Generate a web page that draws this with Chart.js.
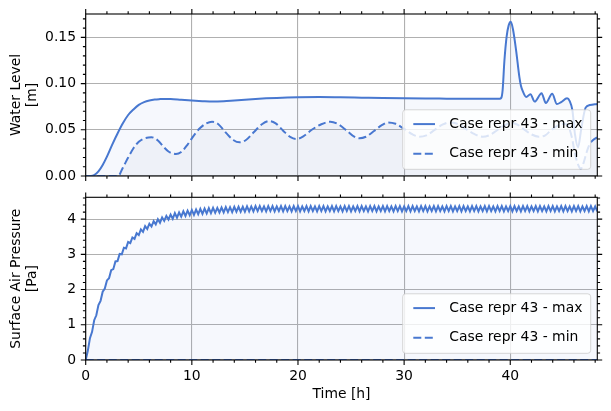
<!DOCTYPE html>
<html><head><meta charset="utf-8">
<script src="https://cdn.jsdelivr.net/npm/chart.js@4/dist/chart.umd.min.js"></script>
<style>
html,body{margin:0;padding:0;background:#fff;width:611px;height:411px;overflow:hidden}
canvas{position:absolute;left:0}
#top{top:0;width:611px;height:190px}
#bot{top:190px;width:611px;height:221px}
</style></head><body>
<canvas id="top" width="611" height="190"></canvas>
<canvas id="bot" width="611" height="221"></canvas>
<script>
// ---------- data ----------
const seriesMaxLabel = 'Case repr 43 - max';
const seriesMinLabel = 'Case repr 43 - min';

const xMajorTicks = [0, 10, 20, 30, 40];
const xMinorTicks = [2, 4, 6, 8, 12, 14, 16, 18, 22, 24, 26, 28, 32, 34, 36, 38, 42, 44, 46, 48];
const waterTicks = [0, 0.05, 0.10, 0.15];
const waterMinorTicks = [0.01, 0.02, 0.03, 0.04, 0.06, 0.07, 0.08, 0.09, 0.11, 0.12, 0.13, 0.14, 0.16, 0.17];
const pressureTicks = [0, 1, 2, 3, 4];
const pressureMinorTicks = [0.2, 0.4, 0.6, 0.8, 1.2, 1.4, 1.6, 1.8, 2.2, 2.4, 2.6, 2.8, 3.2, 3.4, 3.6, 3.8, 4.2, 4.4, 4.6];

const waterMaxTime = [0, 0.5, 0.8, 1.2, 1.6, 2.0, 2.5, 3.0, 3.5, 4.0,
  4.5, 5.0, 5.5, 6.0, 6.5, 7.0, 7.5, 8.0, 9.0, 10.0,
  11, 12, 13, 14, 15, 16, 17, 18, 19, 20,
  22, 24, 26, 28, 30, 32, 34, 36, 38, 39,
  39.15, 39.28, 39.45, 39.66, 39.85, 40.05, 40.25, 40.55, 40.86, 41.0,
  41.17, 41.5, 41.9, 42.3, 42.95, 43.35, 43.95, 44.4, 44.8, 45.35,
  45.6, 45.85, 46.1, 46.38, 46.7, 47.1, 47.5, 48.2];
const waterMax = [0, 0, 0.001, 0.005, 0.012, 0.021, 0.034, 0.046, 0.057, 0.066,
  0.072, 0.077, 0.080, 0.0818, 0.0828, 0.0832, 0.0834, 0.0832, 0.0824, 0.0816,
  0.0810, 0.0806, 0.0810, 0.0818, 0.0826, 0.0834, 0.0840, 0.0845, 0.0849, 0.0852,
  0.0854, 0.0851, 0.0847, 0.0843, 0.0840, 0.0838, 0.0837, 0.0836, 0.0836, 0.0836,
  0.0845, 0.093, 0.125, 0.151, 0.163, 0.1668, 0.159, 0.136, 0.107, 0.098,
  0.092, 0.0855, 0.0885, 0.0805, 0.0895, 0.0790, 0.0890, 0.0778, 0.0800, 0.0840,
  0.0810, 0.0714, 0.0450, 0.0310, 0.0520, 0.0740, 0.0768, 0.0780];

const waterMinTime = [0, 3.05, 3.5, 4.0, 4.5, 5.0, 5.5, 6.2, 6.8, 7.3,
  7.8, 8.5, 9.0, 9.6, 10.2, 10.75, 11.3, 11.9, 12.5, 13.2,
  13.9, 14.5, 15.1, 15.8, 16.6, 17.3, 17.9, 18.6, 19.3, 19.85,
  20.5, 21.3, 22.2, 23.05, 23.8, 24.6, 25.3, 25.8, 26.4, 27.2,
  27.9, 28.5, 29.2, 30.0, 30.8, 31.45, 32.1, 32.9, 33.6, 34.3,
  35.0, 35.8, 36.6, 37.4, 38.0, 38.7, 39.4, 40.0, 40.6, 41.3,
  42.0, 42.7, 43.3, 43.8, 44.4, 45.1, 45.5, 45.8, 46.1, 46.4,
  46.65, 46.9, 47.2, 47.5, 47.8, 48.2];
const waterMin = [0, 0, 0.009, 0.020, 0.030, 0.037, 0.0405, 0.0419, 0.0385, 0.032,
  0.0265, 0.0238, 0.026, 0.034, 0.044, 0.0516, 0.0565, 0.0587, 0.056, 0.047,
  0.039, 0.0364, 0.039, 0.047, 0.056, 0.0595, 0.057, 0.049, 0.042, 0.040,
  0.043, 0.050, 0.056, 0.0587, 0.056, 0.049, 0.0425, 0.0408, 0.0425, 0.049,
  0.055, 0.058, 0.0565, 0.051, 0.045, 0.0425, 0.044, 0.050, 0.0555, 0.058,
  0.0565, 0.051, 0.0455, 0.0425, 0.044, 0.049, 0.0545, 0.057, 0.056, 0.0505,
  0.045, 0.0425, 0.044, 0.049, 0.054, 0.0565, 0.053, 0.042, 0.024, 0.012,
  0.0078, 0.014, 0.026, 0.035, 0.039, 0.042];

// surface air pressure max, sampled every 0.2 h from t = 0
const pressureStepHours = 0.2;
const pressureMax = [
  0, 0.26, 0.62, 0.80, 1.13, 1.27, 1.56, 1.68, 1.94, 2.03,
  2.26, 2.32, 2.55, 2.58, 2.80, 2.81, 3.01, 3.00, 3.19, 3.17,
  3.35, 3.32, 3.48, 3.44, 3.60, 3.55, 3.71, 3.64, 3.80, 3.72,
  3.87, 3.79, 3.94, 3.85, 4.00, 3.90, 4.05, 3.95, 4.09, 3.99,
  4.13, 4.01, 4.17, 4.04, 4.19, 4.07, 4.22, 4.09, 4.24, 4.11,
  4.26, 4.12, 4.27, 4.14, 4.29, 4.15, 4.30, 4.16, 4.31, 4.17,
  4.32, 4.18, 4.32, 4.19, 4.33, 4.19, 4.34, 4.20, 4.34, 4.20,
  4.35, 4.21, 4.35, 4.21, 4.35, 4.21, 4.36, 4.22, 4.36, 4.22,
  4.37, 4.23,
  4.37, 4.23, 4.36, 4.22, 4.37, 4.23, 4.37, 4.22, 4.36, 4.23,
  4.37, 4.22, 4.37, 4.23, 4.36, 4.22, 4.37, 4.23, 4.37, 4.22,
  4.36, 4.23, 4.37, 4.22, 4.37, 4.23, 4.36, 4.22, 4.37, 4.23,
  4.37, 4.22, 4.36, 4.23, 4.37, 4.22, 4.37, 4.23, 4.36, 4.22,
  4.37, 4.23, 4.37, 4.22, 4.36, 4.23, 4.37, 4.22, 4.37, 4.23,
  4.36, 4.22, 4.37, 4.23, 4.37, 4.22, 4.36, 4.23, 4.37, 4.22,
  4.37, 4.23, 4.36, 4.22, 4.37, 4.23, 4.37, 4.22, 4.36, 4.23,
  4.37, 4.22, 4.37, 4.23, 4.36, 4.22, 4.37, 4.23, 4.37, 4.22,
  4.36, 4.23, 4.37, 4.22, 4.37, 4.23, 4.36, 4.22, 4.37, 4.23,
  4.37, 4.22, 4.36, 4.23, 4.37, 4.22, 4.37, 4.23, 4.36, 4.22,
  4.37, 4.23, 4.37, 4.22, 4.36, 4.23, 4.37, 4.22, 4.37, 4.23,
  4.36, 4.22, 4.37, 4.23, 4.37, 4.22, 4.36, 4.23, 4.37, 4.22,
  4.37, 4.23, 4.36, 4.22, 4.37, 4.23, 4.37, 4.22, 4.36, 4.23,
  4.37, 4.22, 4.37, 4.23, 4.36, 4.22, 4.37, 4.23, 4.37, 4.22,
  4.36, 4.23, 4.37, 4.22, 4.37, 4.23, 4.36, 4.22, 4.37, 4.23,
  4.37, 4.22, 4.36, 4.23, 4.37, 4.22, 4.37, 4.23, 4.36, 4.22
];
const pressureMinTime = [0, 48.2];
const pressureMin = [0, 0];

// ---------- styling / helpers ----------
const BLUE = '#4878d0';
const FONT = {family: 'DejaVu Sans', size: 13.9};
const GRID = {color: '#b0b0b0', lineWidth: 1.1, drawTicks: false};
const X_MAX = 48.2;

function pts(xs, ys) { return ys.map((v, i) => ({x: xs[i], y: v})); }
function stepPts(step, ys) { return ys.map((v, i) => ({x: i * step, y: v})); }
function setTicks(list) { return s => { s.ticks = list.map(v => ({value: v})); }; }

const frameTicks = {
  id: 'frameTicks',
  afterDraw(chart, args, o) {
    const {ctx, chartArea: a} = chart;
    const xs = chart.scales.x, ys = chart.scales.y;
    ctx.save();
    ctx.strokeStyle = '#000';
    ctx.lineWidth = 1.1;
    ctx.setLineDash([]);
    ctx.beginPath();
    const xt = (v, len) => { const p = xs.getPixelForValue(v);
      ctx.moveTo(p, a.bottom); ctx.lineTo(p, a.bottom + len);
      ctx.moveTo(p, a.top); ctx.lineTo(p, a.top - len); };
    const yt = (v, len) => { const p = ys.getPixelForValue(v);
      ctx.moveTo(a.left, p); ctx.lineTo(a.left - len, p);
      ctx.moveTo(a.right, p); ctx.lineTo(a.right + len, p); };
    o.xMajor.forEach(v => xt(v, 4.9));
    o.xMinor.forEach(v => xt(v, 2.8));
    o.yMajor.forEach(v => yt(v, 4.9));
    o.yMinor.forEach(v => yt(v, 2.8));
    ctx.stroke();
    ctx.strokeRect(a.left, a.top, a.right - a.left, a.bottom - a.top);

    // legend (lower right)
    const w = 188, h = 59.5;
    const lx = a.right - 6.6 - w, ly = a.bottom - 6.7 - h;
    ctx.beginPath();
    ctx.roundRect(lx, ly, w, h, 3);
    ctx.fillStyle = 'rgba(255,255,255,0.8)';
    ctx.fill();
    ctx.strokeStyle = 'rgba(204,204,204,0.8)';
    ctx.lineWidth = 1;
    ctx.stroke();
    chart.data.datasets.forEach((ds, i) => {
      const cy = ly + 14.3 + i * 29.7;
      ctx.beginPath();
      ctx.strokeStyle = ds.borderColor;
      ctx.lineWidth = ds.borderWidth;
      ctx.setLineDash(ds.borderDash || []);
      ctx.moveTo(lx + 10.6, cy); ctx.lineTo(lx + 32.3, cy);
      ctx.stroke();
      ctx.setLineDash([]);
      ctx.fillStyle = '#000';
      ctx.font = '13.9px "DejaVu Sans"';
      ctx.textBaseline = 'middle';
      ctx.textAlign = 'left';
      ctx.fillText(ds.label, lx + 46.6, cy);
    });
    ctx.restore();
  }
};

function lineDs(label, data, dashed, fillColor, smooth) {
  return {
    label, data,
    borderColor: BLUE, borderWidth: 2,
    borderDash: dashed ? [8, 3.5] : [],
    pointRadius: 0,
    tension: 0,
    cubicInterpolationMode: smooth ? 'monotone' : 'default',
    fill: fillColor ? 'origin' : false,
    backgroundColor: fillColor || 'rgba(0,0,0,0)'
  };
}

function xScale(showLabels, height) {
  return {
    type: 'linear', min: 0, max: X_MAX,
    afterBuildTicks: setTicks(xMajorTicks),
    ticks: {display: showLabels, color: '#000', font: FONT, padding: 8.4, maxRotation: 0,
      callback: v => String(v)},
    grid: GRID,
    border: {display: false},
    title: {display: showLabels, text: 'Time [h]', color: '#000',
      font: {...FONT, lineHeight: 1.1}, padding: {top: 0, bottom: 9.3}},
    afterFit: s => { s.height = height; s.paddingLeft = 0; s.paddingRight = 0; }
  };
}

function yScale(max, ticks, fmt, title) {
  return {
    type: 'linear', min: 0, max,
    afterBuildTicks: setTicks(ticks),
    ticks: {color: '#000', font: FONT, padding: 9.7, callback: fmt},
    grid: GRID,
    border: {display: false},
    title: {display: true, text: title, color: '#000',
      font: {...FONT, lineHeight: 1.1}, padding: {top: 9, bottom: 0}},
    afterFit: s => { s.width = 85.7; s.paddingTop = 0; s.paddingBottom = 0; }
  };
}

const baseOpts = {responsive: false, animation: false, events: [], devicePixelRatio: 1};

new Chart(document.getElementById('top'), {
  type: 'line',
  data: {datasets: [
    lineDs(seriesMaxLabel, pts(waterMaxTime, waterMax), false, 'rgba(72,120,208,0.05)', true),
    lineDs(seriesMinLabel, pts(waterMinTime, waterMin), true, 'rgba(100,110,160,0.05)', true)
  ]},
  options: {
    ...baseOpts,
    layout: {padding: {top: 14, right: 13.7, left: 0, bottom: 0}},
    plugins: {legend: {display: false}, tooltip: {enabled: false},
      frameTicks: {xMajor: xMajorTicks, xMinor: xMinorTicks, yMajor: waterTicks, yMinor: waterMinorTicks}},
    scales: {
      x: xScale(false, 14),
      y: yScale(0.1753, waterTicks, v => Number(v).toFixed(2), ['Water Level', '[m]'])
    }
  },
  plugins: [frameTicks]
});

new Chart(document.getElementById('bot'), {
  type: 'line',
  data: {datasets: [
    lineDs(seriesMaxLabel, stepPts(pressureStepHours, pressureMax), false, 'rgba(72,120,208,0.05)', false),
    lineDs(seriesMinLabel, pts(pressureMinTime, pressureMin), true, null, false)
  ]},
  options: {
    ...baseOpts,
    layout: {padding: {top: 7.3, right: 13.7, left: 0, bottom: 0}},
    plugins: {legend: {display: false}, tooltip: {enabled: false},
      frameTicks: {xMajor: xMajorTicks, xMinor: xMinorTicks, yMajor: pressureTicks, yMinor: pressureMinorTicks}},
    scales: {
      x: xScale(true, 51),
      y: yScale(4.62, pressureTicks, v => String(v), ['Surface Air Pressure', '[Pa]'])
    }
  },
  plugins: [frameTicks]
});
</script></body></html>
